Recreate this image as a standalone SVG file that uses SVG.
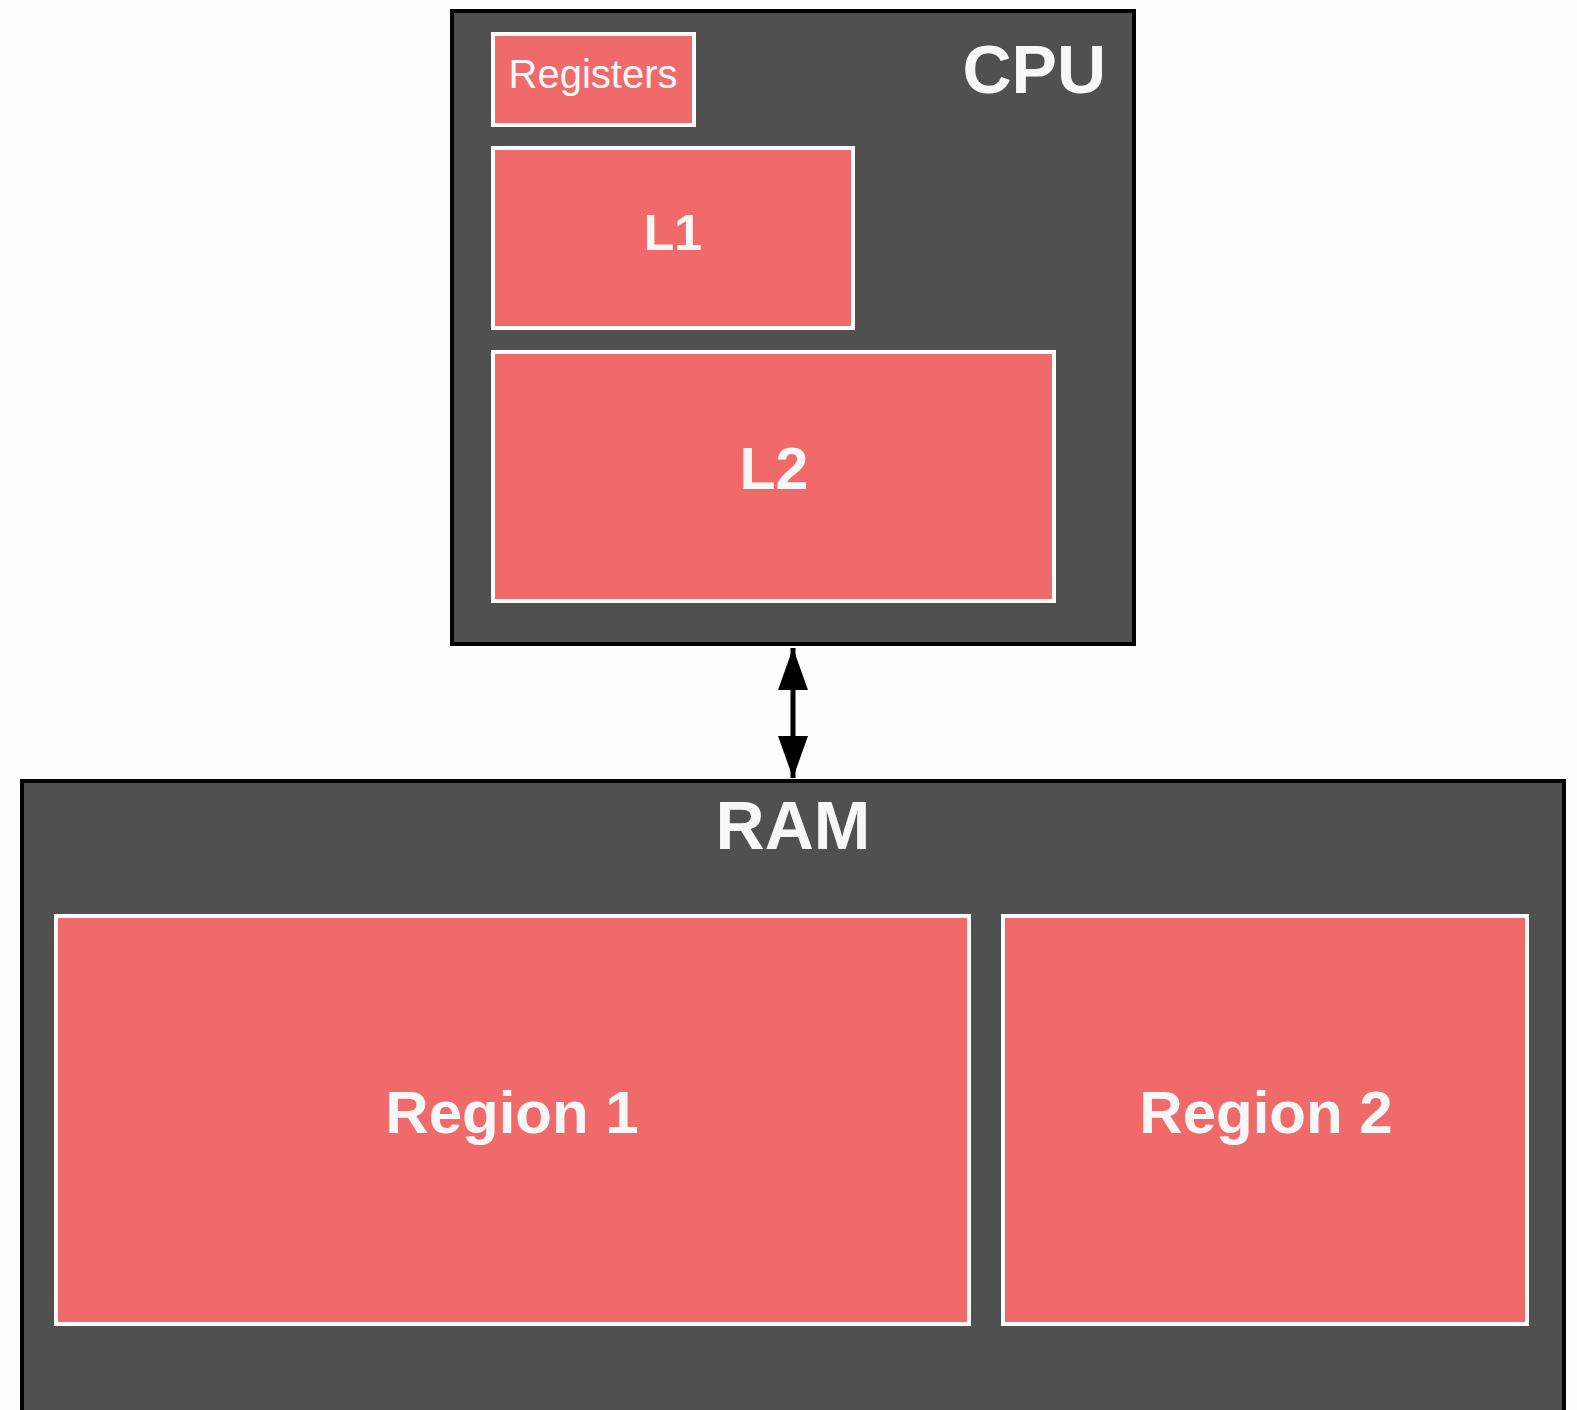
<svg xmlns="http://www.w3.org/2000/svg" width="1577" height="1410" viewBox="0 0 1577 1410">
<defs>
<style>
.container{fill:#505050;stroke:#000;stroke-width:4}
.block{fill:#f06a6a;stroke:#fdfdfd;stroke-width:4}
.t{font-family:"Liberation Sans",Arial,sans-serif;fill:#f7f7f7;text-anchor:middle}
.b{font-weight:bold}
.conn{stroke:#000;stroke-width:5;fill:none}
</style>
<marker id="arrow" viewBox="0 0 42 30" refX="42" refY="15" markerWidth="42" markerHeight="30" markerUnits="userSpaceOnUse" orient="auto-start-reverse">
<path d="M0,0 L42,15 L0,30 z" fill="#000"/>
</marker>
</defs>
<rect width="1577" height="1410" fill="#fdfdfd"/>
<g id="cpu">
<rect class="container" x="452" y="11" width="682" height="633"/>
<text class="t b" x="1106" y="93" font-size="68" style="text-anchor:end">CPU</text>
</g>
<g id="registers">
<rect class="block" x="493" y="34" width="201" height="91"/>
<text class="t" x="593" y="88" font-size="40">Registers</text>
</g>
<g id="l1">
<rect class="block" x="493" y="148" width="360" height="180"/>
<text class="t b" x="673" y="250" font-size="50">L1</text>
</g>
<g id="l2">
<rect class="block" x="493" y="352" width="561" height="249"/>
<text class="t b" x="774" y="489" font-size="59">L2</text>
</g>
<g id="ram">
<rect class="container" x="22" y="781" width="1542" height="660"/>
<text class="t b" x="793" y="849" font-size="68">RAM</text>
</g>
<g id="region1">
<rect class="block" x="56" y="916" width="913" height="408"/>
<text class="t b" x="512" y="1133" font-size="60">Region 1</text>
</g>
<g id="region2">
<rect class="block" x="1003" y="916" width="524" height="408"/>
<text class="t b" x="1266" y="1133" font-size="60">Region 2</text>
</g>
<g id="connectors">
<line class="conn" x1="793" y1="648" x2="793" y2="778" marker-start="url(#arrow)" marker-end="url(#arrow)"/>
</g>
</svg>
